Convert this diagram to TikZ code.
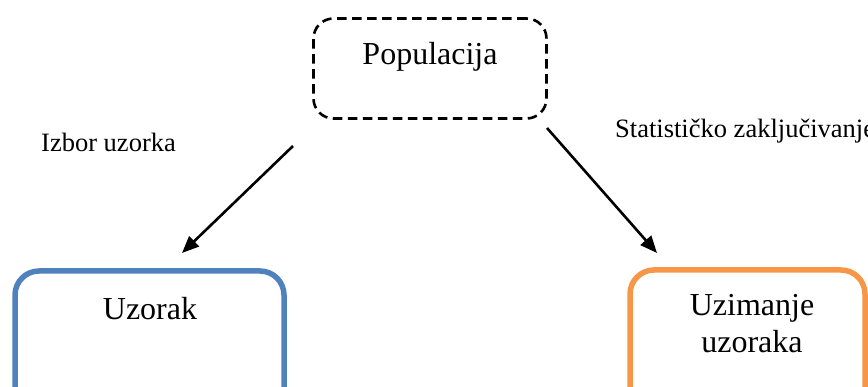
\documentclass[tikz,border=0pt]{standalone}
\usepackage{fontspec}
\setmainfont{Liberation Serif}
\usetikzlibrary{arrows.meta}
\definecolor{boxblue}{HTML}{4F81BD}
\definecolor{boxorange}{HTML}{F79646}
\begin{document}
\begin{tikzpicture}[x=1pt,y=-1pt,
  popbox/.style={draw=black,line width=2.6pt,dash pattern=on 9.5pt off 5.5pt,rounded corners=20pt,minimum width=233pt,minimum height=100pt,inner sep=0pt},
  outbox/.style={line width=5.5pt,rounded corners=24pt,inner sep=0pt},
  bigtext/.style={font=\fontsize{32}{37.5}\selectfont,align=center,inner sep=0pt},
  smalltext/.style={font=\fontsize{26.5}{30}\selectfont,inner sep=0pt,anchor=base west},
  arr/.style={line width=2.6pt,-{Triangle[length=17pt,width=14pt]}}]
\useasboundingbox (0,0) rectangle (868,387);
\clip (0,0) rectangle (868,387);
\node[popbox] (pop) at (430,68.5) {};
\node[bigtext,anchor=base] (poptext) at (430,65) {Populacija};
\node[outbox,draw=boxblue,minimum width=269pt,minimum height=160pt] (uz) at (149.5,351) {};
\node[bigtext,anchor=base] (uztext) at (150,320) {Uzorak};
\node[outbox,draw=boxorange,minimum width=235pt,minimum height=160pt] (uzim) at (747.5,350) {};
\node[bigtext,anchor=base] (uzimtext) at (752,353) {Uzimanje\\uzoraka};
\node[smalltext] (lab1) at (41,152) {Izbor uzorka};
\node[smalltext] (lab2) at (615,138) {Statističko zaključivanje};
\coordinate (a1s) at (293,146);
\coordinate (a1e) at (182,253);
\coordinate (a2s) at (547,128);
\coordinate (a2e) at (657,253);
\draw[arr] (a1s) -- (a1e);
\draw[arr] (a2s) -- (a2e);
\end{tikzpicture}
\end{document}
